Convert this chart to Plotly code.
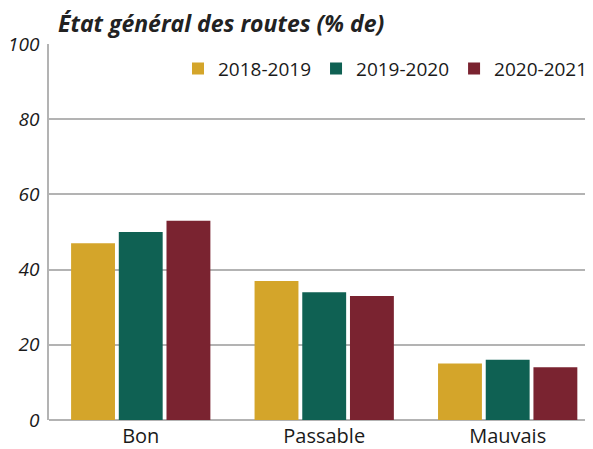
import plotly.graph_objects as go

# Road condition data (% of network)
categories = ["Bon", "Passable", "Mauvais"]
years = ["2018-2019", "2019-2020", "2020-2021"]
v_2018 = [47, 37, 15]
v_2019 = [50, 34, 16]
v_2020 = [53, 33, 14]
colors = ["#D4A52A", "#0F6153", "#7A2330"]

fig = go.Figure()
for name, vals, col in zip(years, [v_2018, v_2019, v_2020], colors):
    fig.add_trace(go.Bar(x=categories, y=vals, name=name, marker_color=col,
                         marker_line_width=0))

# page body has an 8px margin, so the figure is sized to fit the window
fig.update_layout(
    width=585, height=441,
    margin=dict(l=41, r=0, t=36, b=29),
    paper_bgcolor="white", plot_bgcolor="white",
    font=dict(family="Open Sans", size=19, color="#1a1a1a"),
    title=dict(text="État général des routes (% de)", x=0, xref="paper",
               xanchor="left", y=1, yref="container", yanchor="top",
               pad=dict(l=9, t=8),
               font=dict(size=23, weight="bold", style="italic", color="#222")),
    barmode="group", bargap=0.22, bargroupgap=0.08,
    legend=dict(orientation="h", x=1, xanchor="right", y=0.985, yanchor="top",
                font=dict(size=19), itemwidth=30, traceorder="normal"),
    showlegend=True,
)
fig.update_xaxes(range=[-0.5, 2.465], showline=False, ticks="", showgrid=False,
                 tickfont=dict(size=20), ticklabelstandoff=2)
fig.update_yaxes(range=[0, 100], dtick=20, showgrid=True, gridcolor="#b3b3b3",
                 gridwidth=1.5, showline=True, linecolor="#b3b3b3", linewidth=1.5,
                 zeroline=True, zerolinecolor="#b3b3b3", zerolinewidth=1.5,
                 tickfont=dict(style="italic", size=19), ticklabelstandoff=4)

fig.write_html("out.html")
